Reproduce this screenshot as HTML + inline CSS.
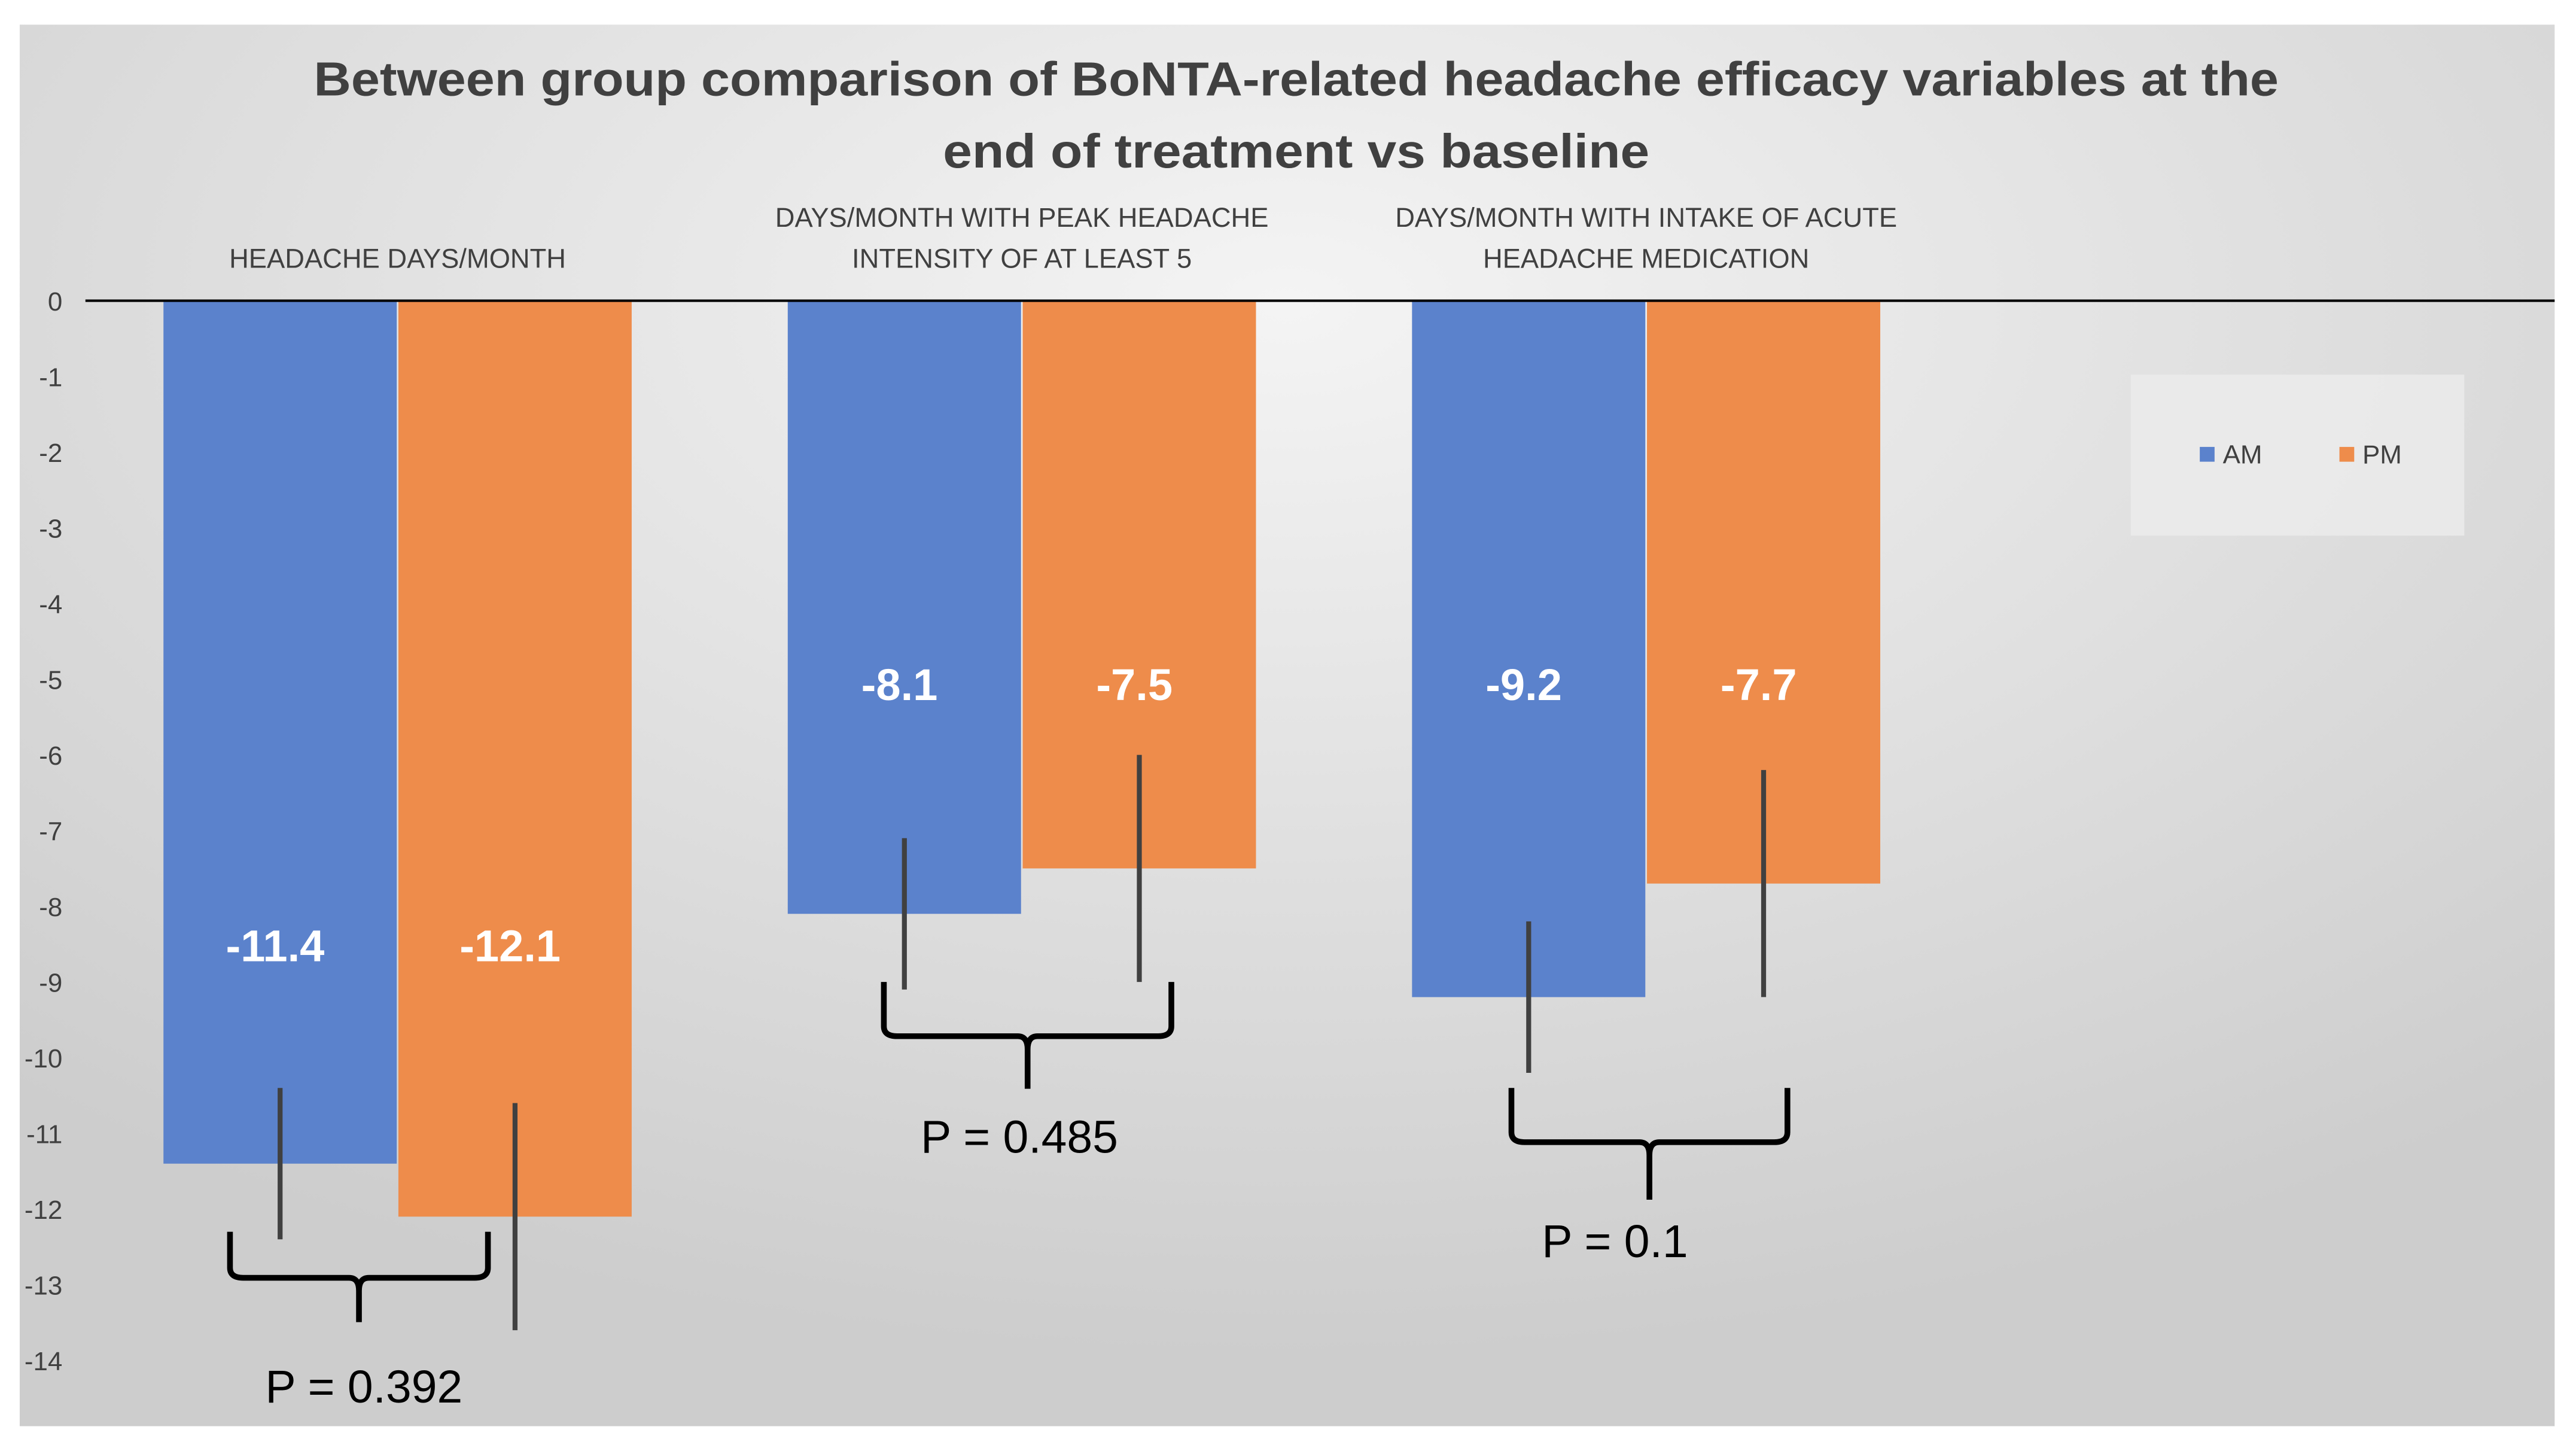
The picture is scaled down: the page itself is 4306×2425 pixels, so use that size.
<!DOCTYPE html>
<html><head><meta charset="utf-8"><style>
html,body{margin:0;padding:0;background:#fff;}
svg{display:block;}
text{font-family:"Liberation Sans",sans-serif;}
</style></head><body>
<svg id="chart" width="4306" height="2425" viewBox="0 0 1568 883.1" preserveAspectRatio="none" xmlns="http://www.w3.org/2000/svg">
<defs>
<radialGradient id="bg" cx="0.5" cy="0.2" r="0.75">
<stop offset="0" stop-color="#f4f4f4"/><stop offset="1" stop-color="#cdcdcd"/>
</radialGradient>
</defs>
<rect x="12" y="15" width="1543" height="853" fill="url(#bg)"/>
<text x="789" y="58" text-anchor="middle" font-size="29" font-weight="bold" fill="#404040" textLength="1196" lengthAdjust="spacingAndGlyphs">Between group comparison of BoNTA-related headache efficacy variables at the</text>
<text x="789" y="102" text-anchor="middle" font-size="29" font-weight="bold" fill="#404040" textLength="430" lengthAdjust="spacingAndGlyphs">end of treatment vs baseline</text>
<rect x="1297" y="228" width="203" height="98" fill="#ececec" opacity="0.8"/>
<rect x="1339" y="272" width="9" height="9" fill="#5b82cc"/>
<text x="1353" y="282" font-size="16" fill="#404040">AM</text>
<rect x="1424" y="272" width="9" height="9" fill="#ee8c4b"/>
<text x="1438" y="282" font-size="16" fill="#404040">PM</text>
<g id="plot"></g>
</svg>
<script>
const categories = [["HEADACHE DAYS/MONTH"],["DAYS/MONTH WITH PEAK HEADACHE","INTENSITY OF AT LEAST 5"],["DAYS/MONTH WITH INTAKE OF ACUTE","HEADACHE MEDICATION"]];
const amValues = [-11.4, -8.1, -9.2];
const pmValues = [-12.1, -7.5, -7.7];
const amErrTop = [-10.4, -7.1, -8.2];
const amErrBottom = [-12.4, -9.1, -10.2];
const pmErrTop = [-10.6, -6.0, -6.2];
const pmErrBottom = [-13.6, -9.0, -9.2];
const pLabels = ["P = 0.392", "P = 0.485", "P = 0.1"];
const braceTop = [-12.3, -9.0, -10.4];
const yTicks = [0,-1,-2,-3,-4,-5,-6,-7,-8,-9,-10,-11,-12,-13,-14];

const NS = "http://www.w3.org/2000/svg";
const g = document.getElementById("plot");
const y = v => 183 + (-v) * (645/14);
const catX = i => 52 + 190 + i * 380;
const braceL = [-102, -84, -82];
const braceR = [55, 91, 86];
const braceDepth = [[28,55],[33,65],[33,68]];
const pOffX = [3, -5, -21];
const pOffY = [49, 39, 35];
function el(tag, attrs, txt){const e=document.createElementNS(NS,tag);for(const k in attrs)e.setAttribute(k,attrs[k]);if(txt!==undefined)e.textContent=txt;g.appendChild(e);return e;}

yTicks.forEach(t=>{
  const e=el("text",{x:38,y:y(t)+6,"text-anchor":"end","font-size":16,fill:"#404040"},String(t));
  
  
});

categories.forEach((lines,i)=>{
  const cx=catX(i);
  const bw=142;
  const series=[[amValues,"#5b82cc",-bw/2-0.5,amErrTop,amErrBottom,"am"],[pmValues,"#ee8c4b",bw/2+0.5,pmErrTop,pmErrBottom,"pm"]];
  series.forEach(([vals,col,off,et,eb,nm])=>{
    const bx=cx+off;
    const r=el("rect",{x:bx-bw/2,y:y(0),width:bw,height:y(vals[i])-y(0),fill:col});
    
    
    const l=el("line",{x1:bx,x2:bx,y1:y(et[i]),y2:y(eb[i]),stroke:"#404040","stroke-width":3});
    
    
    const t=el("text",{x:bx-3,y:(i===0?585:426),"text-anchor":"middle","font-size":27,"font-weight":"bold",fill:"#fff"},vals[i].toFixed(1));
    
    
  });
  lines.forEach((ln,k)=>{
    const yy = lines.length===1?163:138+k*25;
    const t=el("text",{x:cx,y:yy,"text-anchor":"middle","font-size":16.5,fill:"#404040"},ln);
    
    
  });
  const x1=cx+braceL[i], x2=cx+braceR[i], bc=(x1+x2)/2;
  const bt=y(braceTop[i]);
  const bm=bt+braceDepth[i][0], tip=bt+braceDepth[i][1];
  const d=`M${x1} ${bt} L${x1} ${bm-6} Q${x1} ${bm} ${x1+8} ${bm} L${bc-6} ${bm} Q${bc} ${bm} ${bc} ${bm+8} L${bc} ${tip} L${bc} ${bm+8} Q${bc} ${bm} ${bc+6} ${bm} L${x2-8} ${bm} Q${x2} ${bm} ${x2} ${bm-6} L${x2} ${bt}`;
  const b=el("path",{d:d,fill:"none",stroke:"#000","stroke-width":3.5});
  
  
  const p=el("text",{x:bc+pOffX[i],y:tip+pOffY[i],"text-anchor":"middle","font-size":28,fill:"#000"},pLabels[i]);
  
  
});
const ax=el("line",{x1:52,x2:1555,y1:y(0),y2:y(0),stroke:"#000","stroke-width":1.5});


</script>
</body></html>
